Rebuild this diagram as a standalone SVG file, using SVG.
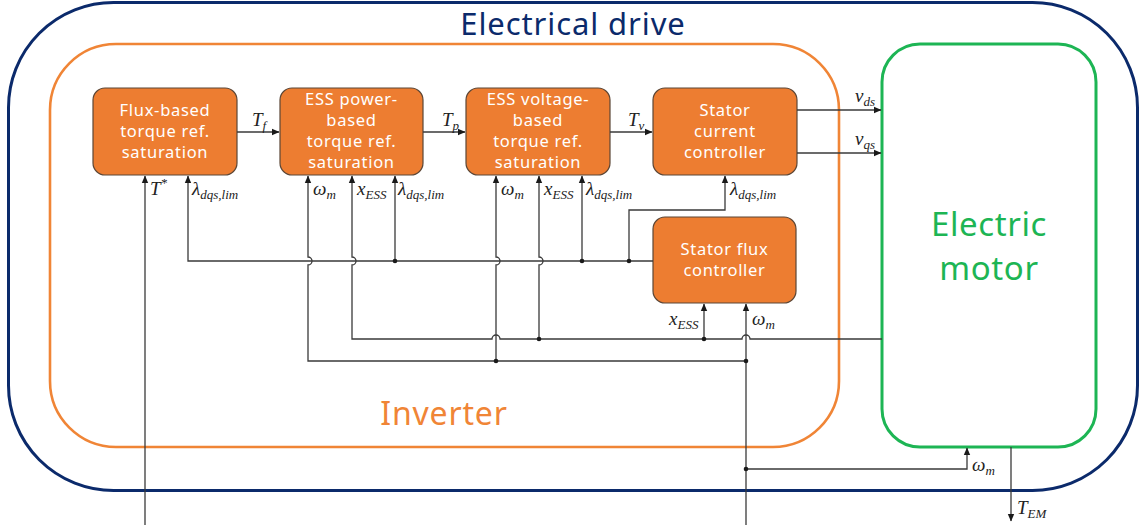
<svg xmlns="http://www.w3.org/2000/svg" width="1148" height="530" viewBox="0 0 1148 530">
<defs>
<marker id="ah" markerWidth="8" markerHeight="8" refX="7" refY="4" orient="auto" markerUnits="userSpaceOnUse">
<path d="M0,0.8 L7.5,4 L0,7.2 Z" fill="#1a1a1a"/>
</marker>
<style>
.frame{fill:none}
.box{fill:#ED7D31;stroke:#5b4636;stroke-width:1.2}
.bt{font-family:"Noto Sans","DejaVu Sans",sans-serif;font-size:16.5px;fill:#ffffff;text-anchor:middle;letter-spacing:0.7px}
.w{fill:none;stroke:#3a3a3a;stroke-width:1.3}
.a{marker-end:url(#ah)}
.dot{fill:#1a1a1a}
.m{font-family:"Liberation Serif","DejaVu Serif",serif;font-style:italic;font-size:19px;fill:#222}
.s{font-size:13px}
</style>
</defs>
<rect width="1148" height="530" fill="#ffffff"/>

<g id="electrical-drive">
<rect x="8.5" y="2.5" width="1129" height="488" rx="105" ry="105" class="frame" stroke="#0B2A6B" stroke-width="3"/>
<text x="573" y="35" font-family="Noto Sans, DejaVu Sans, sans-serif" font-size="31" fill="#0B2A6B" text-anchor="middle" letter-spacing="0.9">Electrical drive</text>
</g>

<g id="inverter">
<rect x="50" y="44" width="789" height="403" rx="66" ry="66" class="frame" stroke="#F08536" stroke-width="2.6"/>
<text x="444" y="425" font-family="Noto Sans, DejaVu Sans, sans-serif" font-size="32" fill="#F08536" text-anchor="middle" letter-spacing="0.8">Inverter</text>
</g>

<g id="electric-motor">
<rect x="882" y="44" width="214" height="403" rx="38" ry="38" class="frame" stroke="#1DB554" stroke-width="3"/>
<text x="989" y="236" font-family="Noto Sans, DejaVu Sans, sans-serif" font-size="33" fill="#1DB554" text-anchor="middle" letter-spacing="0.6">Electric</text>
<text x="989" y="280" font-family="Noto Sans, DejaVu Sans, sans-serif" font-size="33" fill="#1DB554" text-anchor="middle" letter-spacing="0.6">motor</text>
</g>

<g id="flux-torque-sat">
<rect x="93" y="88" width="144" height="87" rx="12" class="box"/>
<text class="bt"><tspan x="165" y="116">Flux-based</tspan><tspan x="165" y="137">torque ref.</tspan><tspan x="165" y="158">saturation</tspan></text>
</g>

<g id="ess-power-sat">
<rect x="280" y="88" width="143" height="87" rx="12" class="box"/>
<text class="bt"><tspan x="351.5" y="105">ESS power-</tspan><tspan x="351.5" y="126">based</tspan><tspan x="351.5" y="147">torque ref.</tspan><tspan x="351.5" y="168">saturation</tspan></text>
</g>

<g id="ess-voltage-sat">
<rect x="466" y="88" width="144" height="87" rx="12" class="box"/>
<text class="bt"><tspan x="538" y="105">ESS voltage-</tspan><tspan x="538" y="126">based</tspan><tspan x="538" y="147">torque ref.</tspan><tspan x="538" y="168">saturation</tspan></text>
</g>

<g id="stator-current-ctrl">
<rect x="653" y="88" width="144" height="87" rx="12" class="box"/>
<text class="bt"><tspan x="725" y="116">Stator</tspan><tspan x="725" y="137">current</tspan><tspan x="725" y="158">controller</tspan></text>
</g>

<g id="stator-flux-ctrl">
<rect x="653" y="217" width="143" height="86" rx="12" class="box"/>
<text class="bt"><tspan x="724.5" y="255">Stator flux</tspan><tspan x="724.5" y="276">controller</tspan></text>
</g>

<g id="connectors">
<path class="w a" d="M237,132 L279,132"/>
<path class="w a" d="M423,132 L465,132"/>
<path class="w a" d="M610,132 L652,132"/>
<path class="w a" d="M797,110 L881,110"/>
<path class="w a" d="M797,153 L881,153"/>
<path class="w a" d="M145,525 L145,176"/>
<path class="w a" d="M653,261 L188,261 L188,176"/>
<path class="w a" d="M395,261 L395,176"/>
<path class="w a" d="M582,261 L582,176"/>
<path class="w a" d="M629,261 L629,210 L725,210 L725,176"/>
<path class="w a" d="M746,525 L746,304"/>
<path class="w a" d="M746,469 L967,469 L967,448"/>
<path class="w a" d="M746,361 L308,361 L308,265 A4,4 0 0 0 308,257 L308,176"/>
<path class="w a" d="M496,361 L496,265 A4,4 0 0 0 496,257 L496,176"/>
<path class="w a" d="M882,339 L750,339 A4,4 0 0 0 742,339 L500,339 A4,4 0 0 0 492,339 L352,339 L352,265 A4,4 0 0 0 352,257 L352,176"/>
<path class="w a" d="M539,339 L539,265 A4,4 0 0 0 539,257 L539,176"/>
<path class="w a" d="M704,339 L704,304"/>
<path class="w a" d="M1011,447 L1011,521"/>
<circle class="dot" cx="395" cy="261" r="2.3"/>
<circle class="dot" cx="582" cy="261" r="2.3"/>
<circle class="dot" cx="629" cy="261" r="2.3"/>
<circle class="dot" cx="539" cy="339" r="2.3"/>
<circle class="dot" cx="704" cy="339" r="2.3"/>
<circle class="dot" cx="496" cy="361" r="2.3"/>
<circle class="dot" cx="746" cy="361" r="2.3"/>
<circle class="dot" cx="746" cy="469" r="2.3"/>
</g>

<g id="labels">
<text x="252" y="126" class="m">T<tspan class="s" dy="4">f</tspan></text>
<text x="442" y="126" class="m">T<tspan class="s" dy="4">p</tspan></text>
<text x="628" y="126" class="m">T<tspan class="s" dy="4">v</tspan></text>
<text x="150" y="195" class="m">T<tspan class="s" dy="-8">*</tspan></text>
<text x="192" y="195" class="m">λ<tspan class="s" dy="4">dqs,lim</tspan></text>
<text x="313" y="195" class="m">ω<tspan class="s" dy="4">m</tspan></text>
<text x="357" y="195" class="m">x<tspan class="s" dy="4">ESS</tspan></text>
<text x="398" y="195" class="m">λ<tspan class="s" dy="4">dqs,lim</tspan></text>
<text x="501" y="195" class="m">ω<tspan class="s" dy="4">m</tspan></text>
<text x="544" y="195" class="m">x<tspan class="s" dy="4">ESS</tspan></text>
<text x="586" y="195" class="m">λ<tspan class="s" dy="4">dqs,lim</tspan></text>
<text x="730" y="195" class="m">λ<tspan class="s" dy="4">dqs,lim</tspan></text>
<text x="855" y="102" class="m">v<tspan class="s" dy="4">ds</tspan></text>
<text x="855" y="145" class="m">v<tspan class="s" dy="4">qs</tspan></text>
<text x="669" y="325" class="m">x<tspan class="s" dy="4">ESS</tspan></text>
<text x="752" y="325" class="m">ω<tspan class="s" dy="4">m</tspan></text>
<text x="972" y="471" class="m">ω<tspan class="s" dy="4">m</tspan></text>
<text x="1017" y="514" class="m">T<tspan class="s" dy="4">EM</tspan></text>
</g>
</svg>
